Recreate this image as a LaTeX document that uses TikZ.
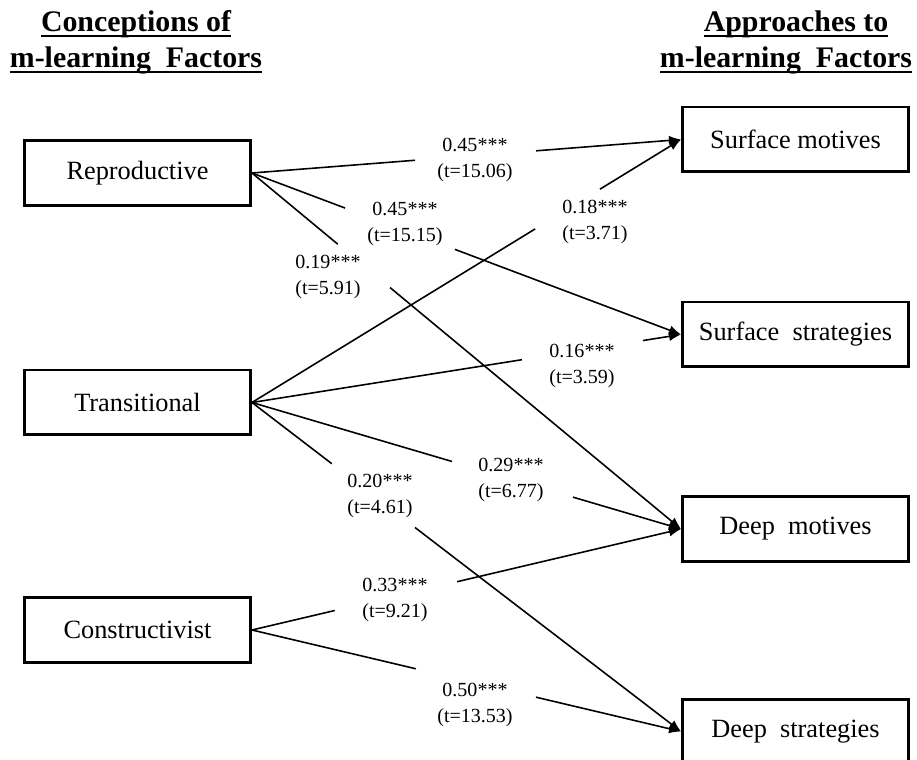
\documentclass[tikz,border=0pt]{standalone}
\usepackage{fontspec}
\setmainfont{Liberation Serif}
\usetikzlibrary{calc,arrows.meta}
\newsavebox{\hdbox}
\newcommand{\ulhead}[1]{\sbox{\hdbox}{#1}\rlap{\rule[-2.6pt]{\wd\hdbox}{1.1pt}}\usebox{\hdbox}}
\tikzset{
  factor/.style={draw,line width=1.7pt,minimum width=4.52cm,minimum height=1.30cm,inner sep=0pt,font=\fontsize{15}{18}\selectfont},
  coef/.style={align=center,inner sep=0pt,font=\fontsize{11.4}{14.5}\selectfont},
  head/.style={anchor=base,font=\fontsize{17}{20}\selectfont\bfseries},
  link/.style={line width=0.9pt}
}
\begin{document}
\begin{tikzpicture}[x=0.02cm,y=-0.02cm,>={Latex[length=0.24cm,width=0.19cm]}]
            \useasboundingbox (0,0) rectangle (917,760);
            % headings
            \node[head] (conc) at (136,32) {\ulhead{Conceptions of}};
            \node[head] (concb) at (136,68) {\ulhead{m-learning\ \ Factors}};
            \node[head] (appr) at (796,32) {\ulhead{Approaches to}};
            \node[head] (apprb) at (786,68) {\ulhead{m-learning\ \ Factors}};
            % factors
            \node[factor] (rep) at (137.5,173) {Reproductive};
            \node[factor] (trans) at (137.5,402.5) {Transitional};
            \node[factor] (con) at (137.5,630) {Constructivist};
            \node[factor] (sm) at (795.5,139.5) {Surface motives};
            \node[factor] (ss) at (795.5,334.5) {Surface\ \ strategies};
            \node[factor] (dm) at (795.5,529) {Deep\ \ motives};
            \node[factor] (ds) at (795.5,731.5) {Deep\ \ strategies};
            % coefficients
            \node[coef] (c1) at (475,160) {0.45***\\(t=15.06)};
            \node[coef] (c2) at (405,224) {0.45***\\(t=15.15)};
            \node[coef] (c3) at (328,277) {0.19***\\(t=5.91)};
            \node[coef] (c4) at (595,222) {0.18***\\(t=3.71)};
            \node[coef] (c5) at (582,366) {0.16***\\(t=3.59)};
            \node[coef] (c6) at (511,480) {0.29***\\(t=6.77)};
            \node[coef] (c7) at (380,496) {0.20***\\(t=4.61)};
            \node[coef] (c8) at (395,600) {0.33***\\(t=9.21)};
            \node[coef] (c9) at (475,705) {0.50***\\(t=13.53)};
            % paths, broken where the coefficient sits
            \draw[link] (rep.east) -- ($(rep.east)!0.380!(sm.west)$);
            \draw[link,->] ($(rep.east)!0.662!(sm.west)$) -- (sm.west);
            \draw[link] (rep.east) -- ($(rep.east)!0.217!(ss.west)$);
            \draw[link,->] ($(rep.east)!0.473!(ss.west)$) -- (ss.west);
            \draw[link] (rep.east) -- ($(rep.east)!0.200!(dm.west)$);
            \draw[link,->] ($(rep.east)!0.322!(dm.west)$) -- (dm.west);
            \draw[link] (trans.east) -- ($(trans.east)!0.660!(sm.west)$);
            \draw[link,->] ($(trans.east)!0.811!(sm.west)$) -- (sm.west);
            \draw[link] (trans.east) -- ($(trans.east)!0.629!(ss.west)$);
            \draw[link,->] ($(trans.east)!0.911!(ss.west)$) -- (ss.west);
            \draw[link] (trans.east) -- ($(trans.east)!0.466!(dm.west)$);
            \draw[link,->] ($(trans.east)!0.748!(dm.west)$) -- (dm.west);
            \draw[link] (trans.east) -- ($(trans.east)!0.186!(ds.west)$);
            \draw[link,->] ($(trans.east)!0.380!(ds.west)$) -- (ds.west);
            \draw[link] (con.east) -- ($(con.east)!0.193!(dm.west)$);
            \draw[link,->] ($(con.east)!0.478!(dm.west)$) -- (dm.west);
            \draw[link] (con.east) -- ($(con.east)!0.382!(ds.west)$);
            \draw[link,->] ($(con.east)!0.662!(ds.west)$) -- (ds.west);
        \end{tikzpicture}
\end{document}
